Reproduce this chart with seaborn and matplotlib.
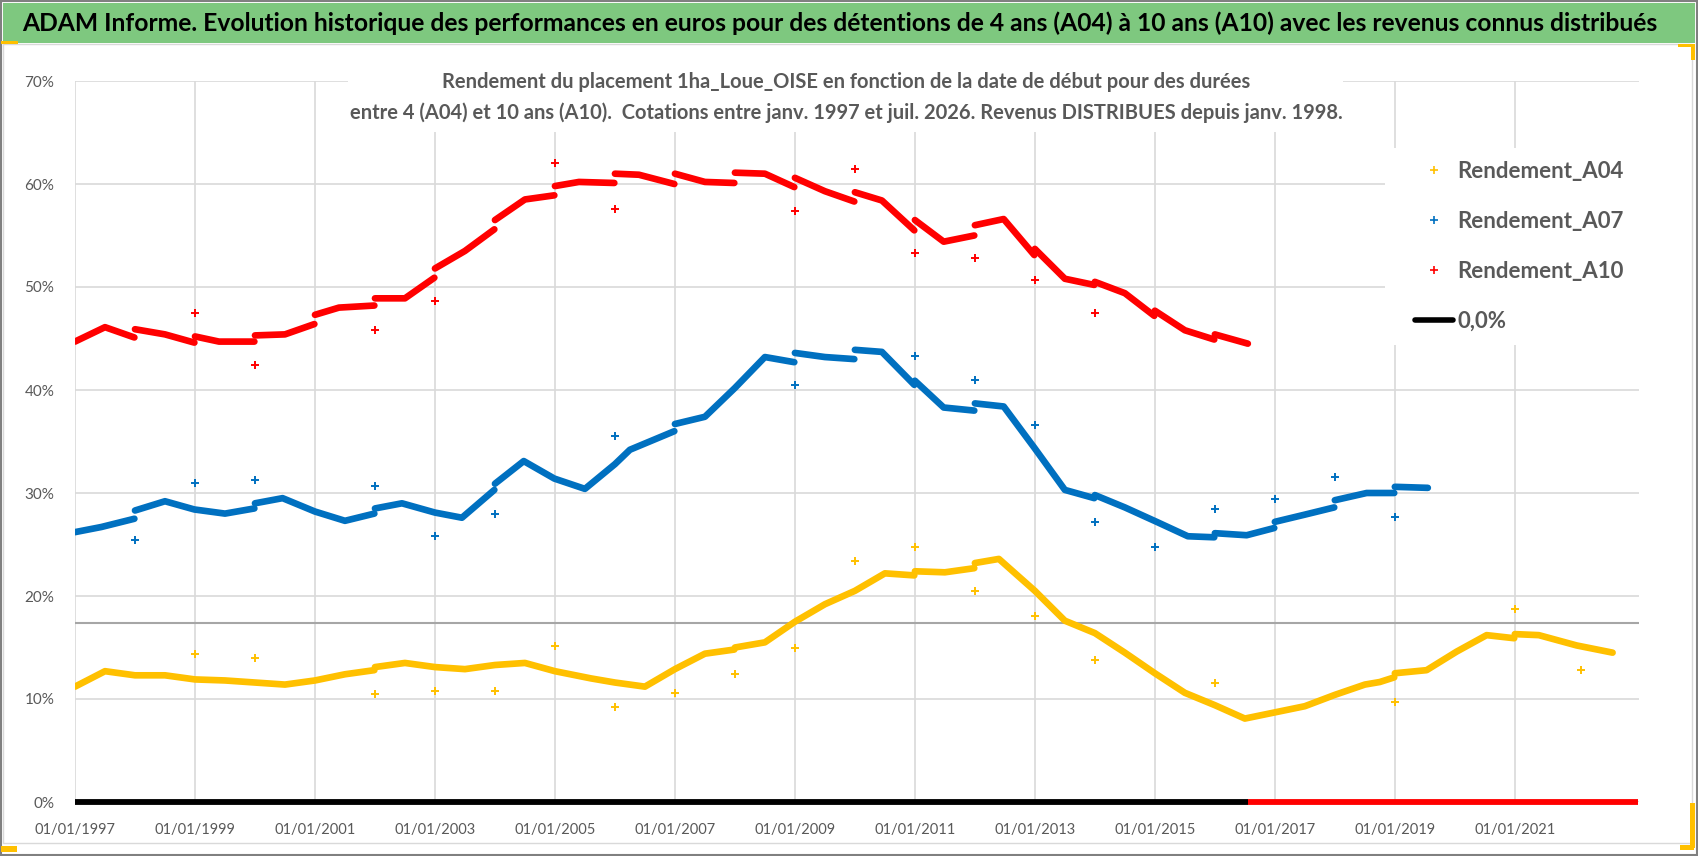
import matplotlib
matplotlib.use("Agg")
import matplotlib.pyplot as plt
from matplotlib.lines import Line2D
from matplotlib.patches import Rectangle
from matplotlib.ticker import FixedLocator, FuncFormatter
import pandas as pd
import seaborn as sns

# --- données (dates en années décimales, rendement en %) ---
a10_dates = [1997.0, 1997.5, 1997.99, 1998.0, 1998.5, 1998.99, 1999.0, 1999.4, 1999.99,
             2000.0, 2000.5, 2000.99, 2001.0, 2001.4, 2001.99, 2002.0, 2002.5, 2002.99,
             2003.0, 2003.5, 2003.99, 2004.0, 2004.5, 2004.99, 2005.0, 2005.4, 2005.99,
             2006.0, 2006.4, 2006.99, 2007.0, 2007.5, 2007.99, 2008.0, 2008.5, 2008.99,
             2009.0, 2009.5, 2009.99, 2010.0, 2010.45, 2010.99, 2011.0, 2011.48, 2011.99,
             2012.0, 2012.48, 2012.99, 2013.0, 2013.5, 2013.99, 2014.0, 2014.5, 2014.99,
             2015.0, 2015.5, 2015.99, 2016.0, 2016.55]
a10_vals = [44.7, 46.1, 45.1, 45.9, 45.4, 44.6, 45.2, 44.7, 44.7,
            45.3, 45.4, 46.4, 47.3, 48.0, 48.2, 48.9, 48.9, 50.9,
            51.8, 53.5, 55.6, 56.5, 58.5, 58.9, 59.8, 60.2, 60.1,
            61.0, 60.9, 60.0, 61.0, 60.2, 60.1, 61.1, 61.0, 59.7,
            60.6, 59.3, 58.3, 59.2, 58.4, 55.5, 56.5, 54.4, 55.0,
            56.0, 56.6, 53.1, 53.7, 50.8, 50.2, 50.5, 49.4, 47.2,
            47.7, 45.8, 44.9, 45.4, 44.5]

a07_dates = [1997.0, 1997.44, 1997.99, 1998.0, 1998.5, 1998.99, 1999.5, 1999.99, 2000.0,
             2000.46, 2001.0, 2001.5, 2001.99, 2002.0, 2002.45, 2003.0, 2003.45, 2003.99,
             2004.0, 2004.48, 2004.99, 2005.5, 2006.0, 2006.25, 2006.99, 2007.0, 2007.5,
             2008.0, 2008.5, 2008.99, 2009.0, 2009.5, 2009.99, 2010.0, 2010.45, 2010.99,
             2011.0, 2011.48, 2011.99, 2012.0, 2012.48, 2012.99, 2013.5, 2013.99, 2014.0,
             2014.5, 2015.03, 2015.55, 2015.99, 2016.0, 2016.53, 2016.99, 2017.0, 2017.5,
             2017.99, 2018.0, 2018.53, 2018.99, 2019.0, 2019.55]
a07_vals = [26.2, 26.7, 27.5, 28.3, 29.2, 28.4, 28.0, 28.5, 29.0,
            29.5, 28.2, 27.3, 28.0, 28.5, 29.0, 28.1, 27.6, 30.3,
            30.9, 33.1, 31.4, 30.4, 32.8, 34.2, 36.0, 36.7, 37.4,
            40.2, 43.2, 42.7, 43.6, 43.2, 43.0, 43.9, 43.7, 40.5,
            40.9, 38.3, 38.0, 38.7, 38.4, 34.4, 30.3, 29.5, 29.8,
            28.6, 27.2, 25.8, 25.7, 26.1, 25.9, 26.6, 27.2, 27.9,
            28.6, 29.3, 30.0, 30.0, 30.6, 30.5]

a04_dates = [1997.0, 1997.5, 1998.0, 1998.5, 1999.0, 1999.5, 2000.0, 2000.5, 2001.0,
             2001.5, 2001.99, 2002.0, 2002.5, 2003.0, 2003.5, 2004.0, 2004.5, 2005.0,
             2005.6, 2006.0, 2006.5, 2007.0, 2007.5, 2007.99, 2008.0, 2008.5, 2009.0,
             2009.5, 2010.0, 2010.5, 2010.99, 2011.0, 2011.5, 2011.99, 2012.0, 2012.4,
             2013.0, 2013.5, 2014.0, 2014.5, 2015.0, 2015.5, 2016.0, 2016.5, 2017.0,
             2017.5, 2018.0, 2018.5, 2018.75, 2018.99, 2019.0, 2019.53, 2020.03, 2020.53,
             2020.99, 2021.0, 2021.4, 2022.03, 2022.63]
a04_vals = [11.2, 12.7, 12.3, 12.3, 11.9, 11.8, 11.6, 11.4, 11.8,
            12.4, 12.8, 13.1, 13.5, 13.1, 12.9, 13.3, 13.5, 12.7,
            12.0, 11.6, 11.2, 12.9, 14.4, 14.8, 15.0, 15.5, 17.5,
            19.2, 20.5, 22.2, 22.0, 22.4, 22.3, 22.7, 23.2, 23.6,
            20.5, 17.6, 16.4, 14.5, 12.5, 10.6, 9.4, 8.1, 8.7,
            9.3, 10.4, 11.4, 11.65, 12.1, 12.5, 12.8, 14.6, 16.2,
            15.9, 16.3, 16.2, 15.2, 14.5]

# points isolés (1er janvier de chaque année)
a10_out_dates = [1999, 2000, 2002, 2003, 2005, 2006, 2009, 2010, 2011, 2012, 2013, 2014]
a10_out_vals = [47.5, 42.4, 45.8, 48.6, 62.0, 57.6, 57.4, 61.5, 53.3, 52.8, 50.7, 47.5]

a07_out_dates = [1998, 1999, 2000, 2002, 2003, 2004, 2006, 2009, 2011, 2012, 2013, 2014,
                 2015, 2016, 2017, 2018, 2019]
a07_out_vals = [25.4, 31.0, 31.3, 30.7, 25.8, 28.0, 35.5, 40.5, 43.3, 41.0, 36.6, 27.2,
                24.8, 28.4, 29.4, 31.6, 27.7]

a04_out_dates = [1999, 2000, 2002, 2003, 2004, 2005, 2006, 2007, 2008, 2009, 2010, 2011,
                 2012, 2013, 2014, 2016, 2019, 2021, 2022.1]
a04_out_vals = [14.4, 14.0, 10.5, 10.8, 10.8, 15.1, 9.2, 10.6, 12.4, 15.0, 23.4, 24.8,
                20.5, 18.1, 13.8, 11.6, 9.7, 18.7, 12.8]

# série 0,0% et rendements A10 nuls en fin de période
zero_dates = [1997.0, 2016.55]
zero_vals = [0.0, 0.0]
a10_zero_dates = [2016.55, 2023.05]
a10_zero_vals = [0.0, 0.0]

ref_level = 17.4  # trait gris horizontal

x_tick_years = [1997, 1999, 2001, 2003, 2005, 2007, 2009, 2011, 2013, 2015, 2017, 2019, 2021]
y_ticks = [0, 10, 20, 30, 40, 50, 60, 70]

title = ("ADAM Informe. Evolution historique des performances en euros pour des détentions "
         "de 4 ans (A04) à 10 ans (A10) avec les revenus connus distribués")
subtitle1 = "Rendement du placement 1ha_Loue_OISE en fonction de la date de début pour des durées"
subtitle2 = ("entre 4 (A04) et 10 ans (A10).  Cotations entre janv. 1997 et juil. 2026. "
             "Revenus DISTRIBUES depuis janv. 1998.")

c04, c07, c10 = "#FFC000", "#0070C0", "#FF0000"
gray_txt = "#595959"


def to_frame(dates, vals):
    df = pd.DataFrame({"date": dates, "rdt": vals})
    # un nouveau tronçon à chaque saut du 1er janvier
    df["seg"] = (df["date"].diff() < 0.02).cumsum()
    return df


sns.set_style("white")
plt.rcParams["font.family"] = ["Lato", "DejaVu Sans"]

fig = plt.figure(figsize=(16.98, 8.56), dpi=100)
W, H = 1698, 856

# cadre, bandeau vert et poignées jaunes
fig.add_artist(Rectangle((3 / W, 1 - 843 / H), 1689 / W, 799 / H, transform=fig.transFigure,
                         facecolor="white", edgecolor="#D9D9D9", lw=1, zorder=0))
fig.add_artist(Rectangle((3 / W, 1 - 43 / H), 1692 / W, 40 / H, transform=fig.transFigure,
                         facecolor="#7EC87F", edgecolor="none", zorder=1))
fig.add_artist(Rectangle((1 / W, 1 / H), 1 - 2 / W, 1 - 2 / H, transform=fig.transFigure,
                         facecolor="none", edgecolor="#808080", lw=1.5, zorder=5))
for (x0, y0, w, h) in [(1, 41, 17, 3), (1, 846, 16, 6), (1680, 845, 14, 5), (1690, 803, 5, 45),
                       (1678, 44, 16, 3), (1691, 44, 4, 16)]:
    fig.add_artist(Rectangle((x0 / W, 1 - (y0 + h) / H), w / W, h / H,
                             transform=fig.transFigure, facecolor=c04, edgecolor="none", zorder=6))

fig.text(22 / W, 1 - 23 / H, title, ha="left", va="center", fontsize=17.7, fontweight="bold",
         color="black", zorder=3)

ax = fig.add_axes([75 / W, 54 / H, 1564 / W, 721 / H])
ax.set_facecolor("none")

lw_band = 4.8
for dates, vals, c in [(a04_dates, a04_vals, c04), (a07_dates, a07_vals, c07),
                       (a10_dates, a10_vals, c10)]:
    sns.lineplot(data=to_frame(dates, vals), x="date", y="rdt", units="seg", estimator=None,
                 color=c, lw=lw_band, sort=False, ax=ax)

for d, v, c in [(a04_out_dates, a04_out_vals, c04), (a07_out_dates, a07_out_vals, c07),
                (a10_out_dates, a10_out_vals, c10)]:
    sns.scatterplot(x=d, y=v, marker="+", s=40, color=c, linewidth=1.4, ax=ax, zorder=3)

ax.plot(zero_dates, zero_vals, color="black", lw=4.2, solid_capstyle="butt", clip_on=False, zorder=4)
ax.plot(a10_zero_dates, a10_zero_vals, color=c10, lw=4.2, solid_capstyle="butt", clip_on=False, zorder=4)
ax.axhline(ref_level, color="#A6A6A6", lw=1.5, zorder=1)

ax.set_xlim(1997.0, 2023.07)
ax.set_ylim(0, 70)
ax.xaxis.set_major_locator(FixedLocator(x_tick_years))
ax.xaxis.set_major_formatter(FuncFormatter(lambda v, p: f"01/01/{int(round(v))}"))
ax.yaxis.set_major_locator(FixedLocator(y_ticks))
ax.yaxis.set_major_formatter(FuncFormatter(lambda v, p: f"{int(round(v))}%"))
ax.grid(True, color="#D9D9D9", lw=1.2)
ax.set_axisbelow(True)
for s in ax.spines.values():
    s.set_visible(False)
ax.tick_params(axis="x", length=0, pad=15, labelsize=10.5, labelcolor=gray_txt)
ax.tick_params(axis="y", length=0, pad=15, labelsize=11, labelcolor=gray_txt)
ax.set_xlabel("")
ax.set_ylabel("")

# zones blanches du sous-titre et de la légende
ax.add_patch(Rectangle((0.1746, 0.929), 0.8107 - 0.1746, 0.095, transform=ax.transAxes,
                       facecolor="white", edgecolor="none", clip_on=False, zorder=1))
ax.add_patch(Rectangle((0.8376, 0.634), 1 - 0.8376, 0.907 - 0.634, transform=ax.transAxes,
                       facecolor="white", edgecolor="none", zorder=1))

fig.text(846 / W, 1 - 82 / H, subtitle1, ha="center", va="center", fontsize=14.5,
         fontweight="bold", color=gray_txt, zorder=7)
fig.text(846 / W, 1 - 113 / H, subtitle2, ha="center", va="center", fontsize=14.5,
         fontweight="bold", color=gray_txt, zorder=7)

handles = [Line2D([], [], ls="none", marker="+", color=c04, markersize=6, mew=1.2),
           Line2D([], [], ls="none", marker="+", color=c07, markersize=6, mew=1.2),
           Line2D([], [], ls="none", marker="+", color=c10, markersize=6, mew=1.2),
           Line2D([], [], color="black", lw=4)]
labels = ["Rendement_A04", "Rendement_A07", "Rendement_A10", "0,0%"]
leg = ax.legend(handles, labels, loc="upper left", bbox_to_anchor=(1415 / W, 1 - 161 / H),
                bbox_transform=fig.transFigure, frameon=False, fontsize=16, handlelength=1.7,
                handletextpad=0.2, labelspacing=1.3, borderpad=0, borderaxespad=0)
for t in leg.get_texts():
    t.set_color(gray_txt)
    t.set_fontweight("bold")

fig.savefig("out.png", dpi=100)
